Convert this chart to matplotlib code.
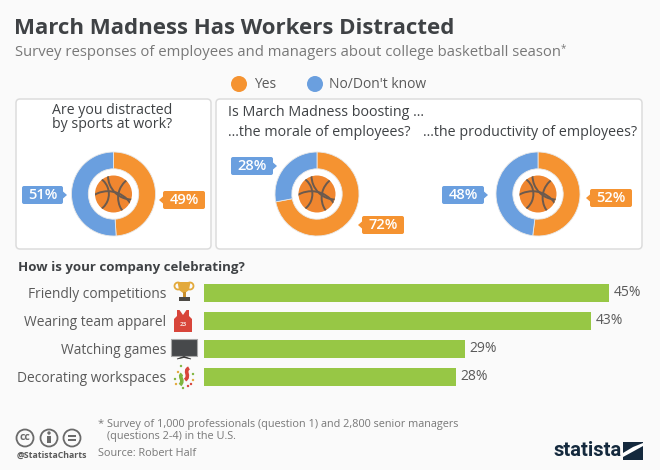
#!/usr/bin/env python3

import matplotlib
matplotlib.use("Agg")
import matplotlib.pyplot as plt
from matplotlib.patches import Arc, Circle, FancyBboxPatch, Polygon, Rectangle, PathPatch
from matplotlib.path import Path

plt.rcParams["font.family"] = ["Open Sans", "DejaVu Sans"]

W, H = 660, 470
ORANGE = "#f59331"
BLUE = "#6a9fdf"
GREEN = "#97c745"
DARK = "#3f4245"
GRAY = "#787878"
BG = "#fafafa"

yes_share = [49, 72, 52]
no_share = [51, 28, 48]

categories = [
    "Friendly competitions",
    "Wearing team apparel",
    "Watching games",
    "Decorating workspaces",
]
celebrating = [45, 43, 29, 28]


def px_axes(fig, x0, y0, x1, y1, **kw):
    # axes from pixel box, y measured from the top
    return fig.add_axes([x0 / W, 1 - y1 / H, (x1 - x0) / W, (y1 - y0) / H], **kw)


def panel(ax, x0, y0, x1, y1):
    ax.add_patch(FancyBboxPatch((x0 + 3, y0 + 3), x1 - x0 - 6, y1 - y0 - 6,
                                boxstyle="round,pad=3,rounding_size=4",
                                fc="white", ec="#dcdcdc", lw=1.1))


def donut(fig, cx, cy, yes, no, r=42):
    ax = px_axes(fig, cx - r, cy - r, cx + r, cy + r, zorder=1)
    ax.pie([yes, no], colors=[ORANGE, BLUE], startangle=90, counterclock=False,
           radius=1, wedgeprops=dict(width=0.4, edgecolor="#e8e8e8", linewidth=0.6))
    ax.set_xlim(-1, 1)
    ax.set_ylim(-1, 1)
    ax.set_aspect("equal")
    ax.axis("off")


def basketball(ax, cx, cy, r=18.5):
    ball = Circle((cx, cy), r, fc="#f0862f", ec="none")
    ax.add_patch(ball)
    line = dict(ec="#6b5a4e", lw=1.4, fc="none")
    parts = [
        Arc((cx - r * 1.25, cy), r * 2.0, r * 2.0, **line),
        Arc((cx + r * 1.45, cy + r * 0.2), r * 2.4, r * 2.4, **line),
        Arc((cx + r * 1.0, cy - r * 1.0), r * 2.6, r * 2.6, **line),
        Arc((cx - r * 0.3, cy + r * 1.3), r * 2.9, r * 2.9, **line),
    ]
    for p in parts:
        ax.add_patch(p)
        p.set_clip_path(ball)


def callout(ax, x0, y0, x1, y1, text, color, side):
    ax.add_patch(FancyBboxPatch((x0 + 1, y0 + 1), x1 - x0 - 2, y1 - y0 - 2,
                                boxstyle="round,pad=1,rounding_size=2", fc=color, ec="none"))
    ym = (y0 + y1) / 2
    if side == "right":
        pts = [(x1, ym - 3.5), (x1 + 4, ym), (x1, ym + 3.5)]
    else:
        pts = [(x0, ym - 3.5), (x0 - 4, ym), (x0, ym + 3.5)]
    ax.add_patch(Polygon(pts, fc=color, ec="none"))
    ax.text((x0 + x1) / 2, ym, text, color="white", fontsize=10.5, fontweight="semibold",
            ha="center", va="center")


def trophy(ax, x, y):
    gold = "#e3a93b"
    ax.add_patch(Arc((x - 6, y - 6), 7, 7, ec=gold, lw=1.3))
    ax.add_patch(Arc((x + 6, y - 6), 7, 7, ec=gold, lw=1.3))
    ax.add_patch(Polygon([(x - 6.5, y - 10), (x + 6.5, y - 10), (x + 5, y - 2), (x + 1, y + 1),
                          (x - 1, y + 1), (x - 5, y - 2)], fc=gold, ec="none"))
    ax.add_patch(Rectangle((x - 1.5, y), 3, 5, fc="#c98f2c", ec="none"))
    ax.add_patch(Rectangle((x - 5.5, y + 5), 11, 4, fc="#4d4a45", ec="none"))


def jersey(ax, x, y):
    red = "#d8453a"
    ax.add_patch(Polygon([(x - 6, y - 11), (x - 3.5, y - 11), (x, y - 6), (x + 3.5, y - 11),
                          (x + 6, y - 11), (x + 6, y - 5), (x + 9, y - 2), (x + 9, y + 11),
                          (x - 9, y + 11), (x - 9, y - 2), (x - 6, y - 5)], fc=red, ec="none"))
    ax.text(x, y + 3, "23", color="#f6d5d0", fontsize=4.5, fontweight="bold", ha="center", va="center")


def tv(ax, x, y):
    ax.add_patch(Rectangle((x - 13, y - 9.5), 26, 17, fc="#47494b", ec="#a9a9a9", lw=0.8))
    ax.add_patch(Polygon([(x - 7, y + 11), (x, y + 8.5), (x + 7, y + 11), (x, y + 9.5)],
                         fc="#3a3a3a", ec="#3a3a3a", lw=0.6))


def confetti(ax, x, y):
    red, green, yellow = "#d8453a", "#7fb53f", "#e3a93b"
    swirl = [(Path.MOVETO, (x + 5, y - 9)), (Path.CURVE4, (x - 1, y - 6)), (Path.CURVE4, (x + 7, y - 1)),
             (Path.CURVE4, (x + 1, y + 3))]
    codes, verts = zip(*swirl)
    ax.add_patch(PathPatch(Path(verts, codes), fc="none", ec=red, lw=2.6))
    swirl2 = [(Path.MOVETO, (x - 2, y - 3)), (Path.CURVE4, (x - 6, y)), (Path.CURVE4, (x + 1, y + 3)),
              (Path.CURVE4, (x - 4, y + 8))]
    codes, verts = zip(*swirl2)
    ax.add_patch(PathPatch(Path(verts, codes), fc="none", ec=green, lw=2.6))
    for dx, dy, c in [(-3, -11, green), (-9, 2, green), (-8, 7, yellow), (9, -3, green), (9, 3, yellow),
                      (4, 9, red), (-1, 11, green), (-6, -5, yellow), (7, 7, red)]:
        ax.add_patch(Circle((x + dx, y + dy), 1.2, fc=c, ec="none"))


def cc_icons(ax):
    c = "#6a6a6a"
    for cx in (25, 49, 72):
        ax.add_patch(Circle((cx, 438), 8.5, fc="none", ec=c, lw=1.3))
    ax.text(25, 438, "cc", color=c, fontsize=7.5, fontweight="bold", ha="center", va="center")
    ax.add_patch(Circle((49, 433), 1.7, fc=c, ec="none"))
    ax.add_patch(Rectangle((46.8, 435.5), 4.4, 7.5, fc=c, ec="none"))
    ax.add_patch(Rectangle((68, 434.5), 8, 2, fc=c, ec="none"))
    ax.add_patch(Rectangle((68, 439), 8, 2, fc=c, ec="none"))


def statista_logo(ax):
    navy = "#14293d"
    ax.text(553, 451, "statista", color=navy, fontsize=14.5, fontweight="bold",
            family=["Roboto", "DejaVu Sans"], va="center", ha="left")
    ax.add_patch(Rectangle((623, 442), 20, 18, fc=navy, ec="none"))
    ax.add_patch(Polygon([(623, 453), (633, 447), (643, 443), (643, 446), (634, 451), (623, 457)],
                         fc="white", ec="none"))


def main():
    fig = plt.figure(figsize=(W / 100, H / 100), dpi=100, facecolor=BG)

    bg = px_axes(fig, 0, 0, W, H, zorder=0)
    bg.set_xlim(0, W)
    bg.set_ylim(H, 0)
    bg.axis("off")

    panel(bg, 16, 99, 211, 249)
    panel(bg, 216, 99, 642, 249)

    centers = [113.5, 317, 538]
    for cx, yes, no in zip(centers, yes_share, no_share):
        donut(fig, cx, 194, yes, no)

    # bars
    ax = px_axes(fig, 203.5, 284, 609, 386, zorder=1)
    ax.set_facecolor("none")
    ypos = list(range(len(categories)))
    ax.barh(ypos, celebrating, height=18 / 28, color=GREEN)
    ax.set_xlim(0, 45)
    ax.set_ylim(3 + 9 / 28, -9 / 28)
    ax.set_xticks([])
    ax.set_yticks(ypos, categories, color="#5a5a5a", fontsize=9.9)
    ax.tick_params(axis="y", length=0, pad=27)
    for s in ax.spines.values():
        s.set_visible(False)
    for y, v in zip(ypos, celebrating):
        ax.text(v + 0.5, y, f"{v}%", color="#5a5a5a", fontsize=10, va="center", clip_on=False)

    fg = px_axes(fig, 0, 0, W, H, zorder=2)
    fg.set_xlim(0, W)
    fg.set_ylim(H, 0)
    fg.axis("off")
    fg.patch.set_alpha(0)

    fg.text(14, 28, "March Madness Has Workers Distracted", color=DARK, fontsize=16,
            fontweight="bold", va="center")
    fg.text(15, 53, "Survey responses of employees and managers about college basketball season",
            color=GRAY, fontsize=10.7, va="center")
    fg.text(561, 49, "*", color=GRAY, fontsize=7, va="center")

    fg.add_patch(Circle((239, 84), 8, fc=ORANGE, ec="none"))
    fg.text(254, 84, "Yes", color="#5a5a5a", fontsize=10, va="center")
    fg.add_patch(Circle((315, 84), 8, fc=BLUE, ec="none"))
    fg.text(329, 84, "No/Don't know", color="#5a5a5a", fontsize=10, va="center")

    fg.text(112, 111, "Are you distracted", color=DARK, fontsize=10.2, fontweight="medium",
            ha="center", va="center")
    fg.text(112, 125, "by sports at work?", color=DARK, fontsize=10.2, fontweight="medium",
            ha="center", va="center")
    fg.text(228, 113, "Is March Madness boosting ...", color=DARK, fontsize=10.3, fontweight="medium", va="center")
    fg.text(228, 132, "...the morale of employees?", color=DARK, fontsize=10.3, fontweight="medium", va="center")
    fg.text(423, 132, "...the productivity of employees?", color=DARK, fontsize=10.3, fontweight="medium", va="center")

    for cx in centers:
        basketball(fg, cx, 194)

    callout(fg, 22, 186, 63, 204, f"{no_share[0]}%", BLUE, "right")
    callout(fg, 163, 191, 205, 209, f"{yes_share[0]}%", ORANGE, "left")
    callout(fg, 231, 157, 273, 175, f"{no_share[1]}%", BLUE, "right")
    callout(fg, 362, 216, 404, 234, f"{yes_share[1]}%", ORANGE, "left")
    callout(fg, 442, 186, 484, 204, f"{no_share[2]}%", BLUE, "right")
    callout(fg, 590, 189, 632, 207, f"{yes_share[2]}%", ORANGE, "left")

    fg.text(18, 267, "How is your company celebrating?", color=DARK, fontsize=9.55,
            fontweight="bold", va="center")

    trophy(fg, 184, 292)
    jersey(fg, 183, 321)
    tv(fg, 184, 348)
    confetti(fg, 184, 377)

    fg.text(98, 424, "*", color=GRAY, fontsize=8, va="center")
    fg.text(107, 424, "Survey of 1,000 professionals (question 1) and 2,800 senior managers",
            color=GRAY, fontsize=7.85, va="center")
    fg.text(107, 437, "(questions 2-4) in the U.S.", color=GRAY, fontsize=7.85, va="center")
    fg.text(98, 454, "Source: Robert Half", color=GRAY, fontsize=7.85, va="center")
    fg.text(17, 455, "@StatistaCharts", color="#5a5a5a", fontsize=6.3, fontweight="bold", va="center")

    cc_icons(fg)
    statista_logo(fg)

    fig.savefig("out.png", dpi=100, facecolor=BG)


if __name__ == "__main__":
    main()
